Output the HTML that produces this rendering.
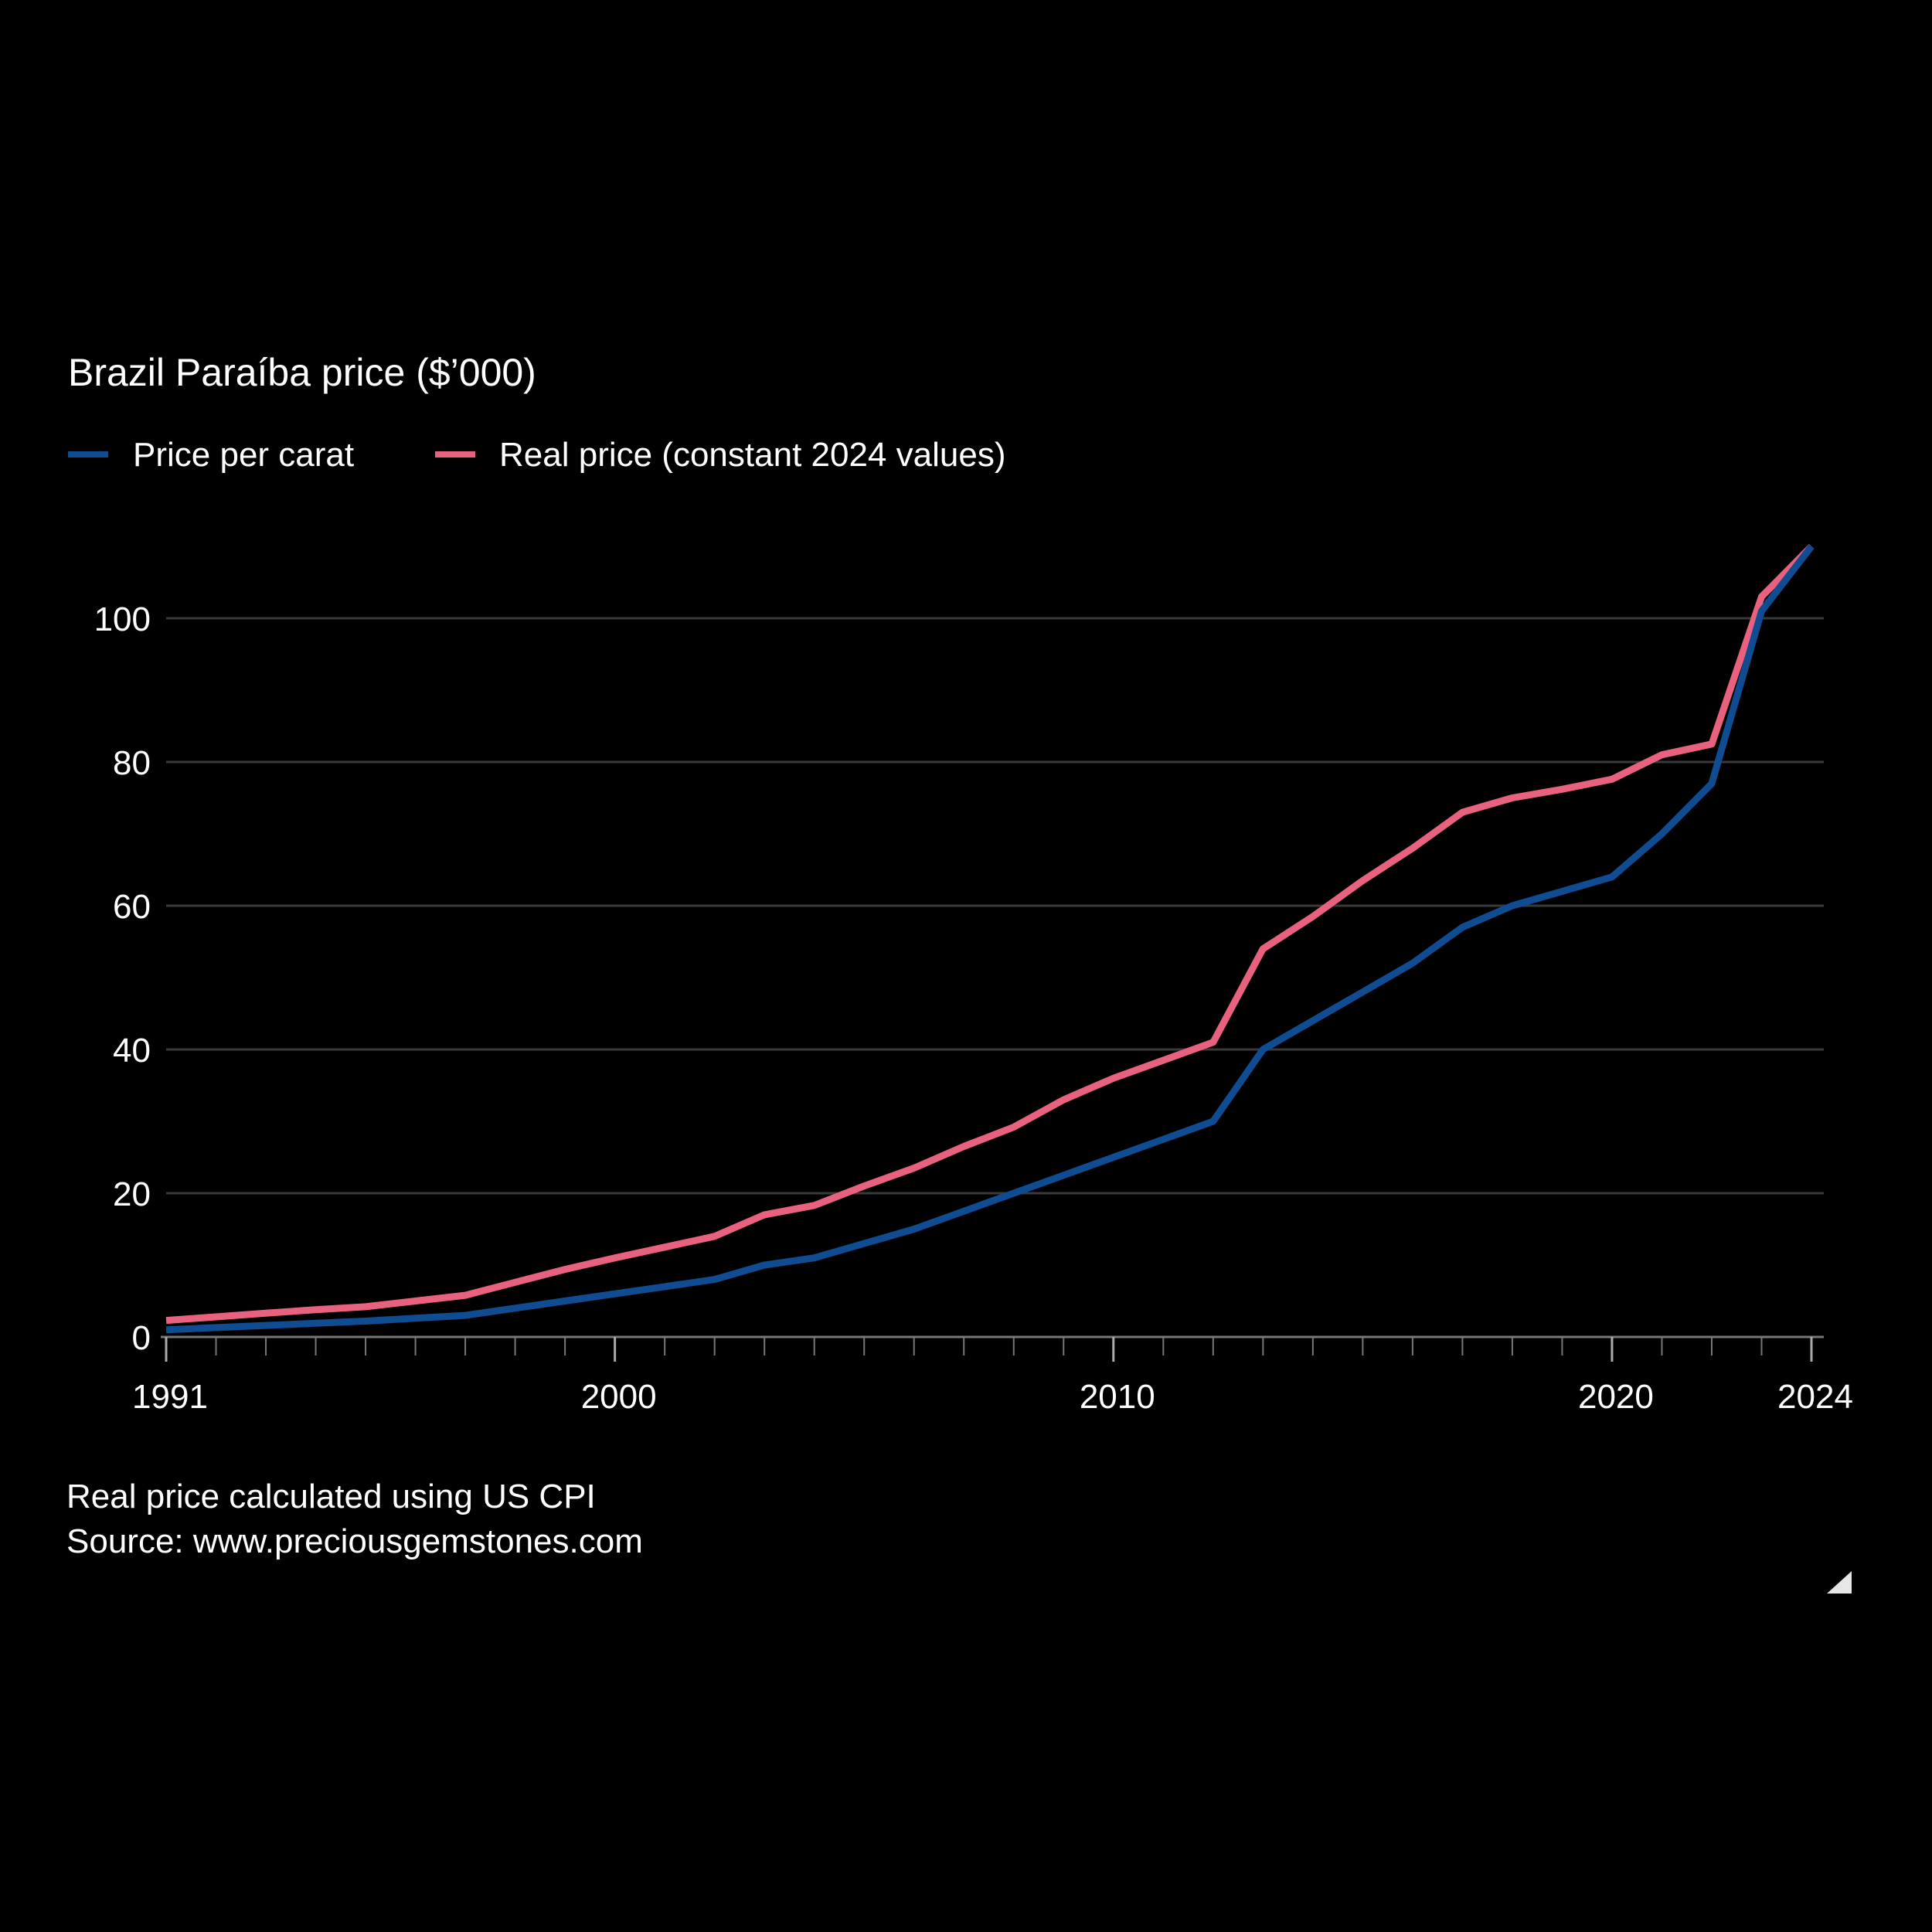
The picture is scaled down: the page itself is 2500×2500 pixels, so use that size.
<!DOCTYPE html>
<html><head><meta charset="utf-8">
<style>
html,body{margin:0;padding:0;background:#000;}
svg{display:block;font-family:"Liberation Sans",sans-serif;}
</style></head>
<body>
<svg id="chart" width="2500" height="2500" viewBox="0 0 2500 2500">
<rect width="2500" height="2500" fill="#000"/>
<text x="88" y="499" fill="#fff" font-size="50">Brazil Paraíba price ($’000)</text>
<g>
<line x1="88" y1="588" x2="140" y2="588" stroke="#0f4c92" stroke-width="8"/>
<text x="172" y="603" fill="#fff" font-size="44">Price per carat</text>
<line x1="563" y1="588" x2="615" y2="588" stroke="#e8617f" stroke-width="8"/>
<text x="646" y="603" fill="#fff" font-size="44">Real price (constant 2024 values)</text>
</g>
<g id="grid"></g><g id="axis"></g><g id="series"></g>
<text x="86" y="1951" fill="#fff" font-size="44">Real price calculated using US CPI</text>
<text x="86" y="2009" fill="#fff" font-size="44">Source: www.preciousgemstones.com</text>
<polygon points="2396,2033 2396,2062 2364,2062" fill="#e6e6e6"/>
</svg>
<script>
const years=[];for(let y=1991;y<=2024;y++)years.push(y);
const priceValues=[1,1.3,1.6,1.9,2.2,2.6,3,4,5,6,7,8,10,11,13,15,17.5,20,22.5,25,27.5,30,40,44,48,52,57,60,62,64,70,77,101,110];
const realValues=[2.3,2.8,3.3,3.8,4.2,5,5.8,7.6,9.4,11,12.5,14,17,18.3,21,23.5,26.5,29.2,33,36,38.5,41,54,58.5,63.5,68,73,75,76.2,77.6,81,82.5,103,110];
const yTicks=[0,20,40,60,80,100];
const xLabels=[1991,2000,2010,2020,2024];
const NS="http://www.w3.org/2000/svg";
const xs=y=>215+(y-1991)*(2344-215)/33;
const ys=v=>1730-v*(1730-800)/100;
function mk(tag,attrs,parent){const e=document.createElementNS(NS,tag);for(const k in attrs)e.setAttribute(k,attrs[k]);document.getElementById(parent).appendChild(e);return e;}
yTicks.forEach(t=>{
 if(t>0){const l=mk('line',{x1:215,x2:2360,y1:ys(t),y2:ys(t),stroke:'#3a3a3a','stroke-width':3},'grid');
 
 }
 const tx=mk('text',{x:195,y:ys(t)+16,fill:'#fff','font-size':44,'text-anchor':'end'},'axis');tx.textContent=t;
 
 
});
const ax=mk('line',{x1:208,x2:2360,y1:1730,y2:1730,stroke:'#777','stroke-width':3},'axis');


years.forEach(y=>{const major=xLabels.includes(y);
 const t=mk('line',{x1:xs(y),x2:xs(y),y1:1730,y2:major?1762:1754,stroke:major?'#aaa':'#777','stroke-width':major?3:2},'axis');
 
 });
xLabels.forEach(y=>{const t=mk('text',{x:xs(y)+5,y:1822,fill:'#fff','font-size':44,'text-anchor':'middle'},'axis');t.textContent=y;
 
 });
function line(vals,color,name){const d=vals.map((v,i)=>(i?'L':'M')+xs(years[i]).toFixed(1)+','+ys(v).toFixed(1)).join('');
 const p=mk('path',{d:d,fill:'none',stroke:color,'stroke-width':9,'stroke-linejoin':'round'},'series');
 
 }
line(realValues,'#e8617f','series-real-price');
line(priceValues,'#0f4c92','series-price-per-carat');
</script>
</body></html>
